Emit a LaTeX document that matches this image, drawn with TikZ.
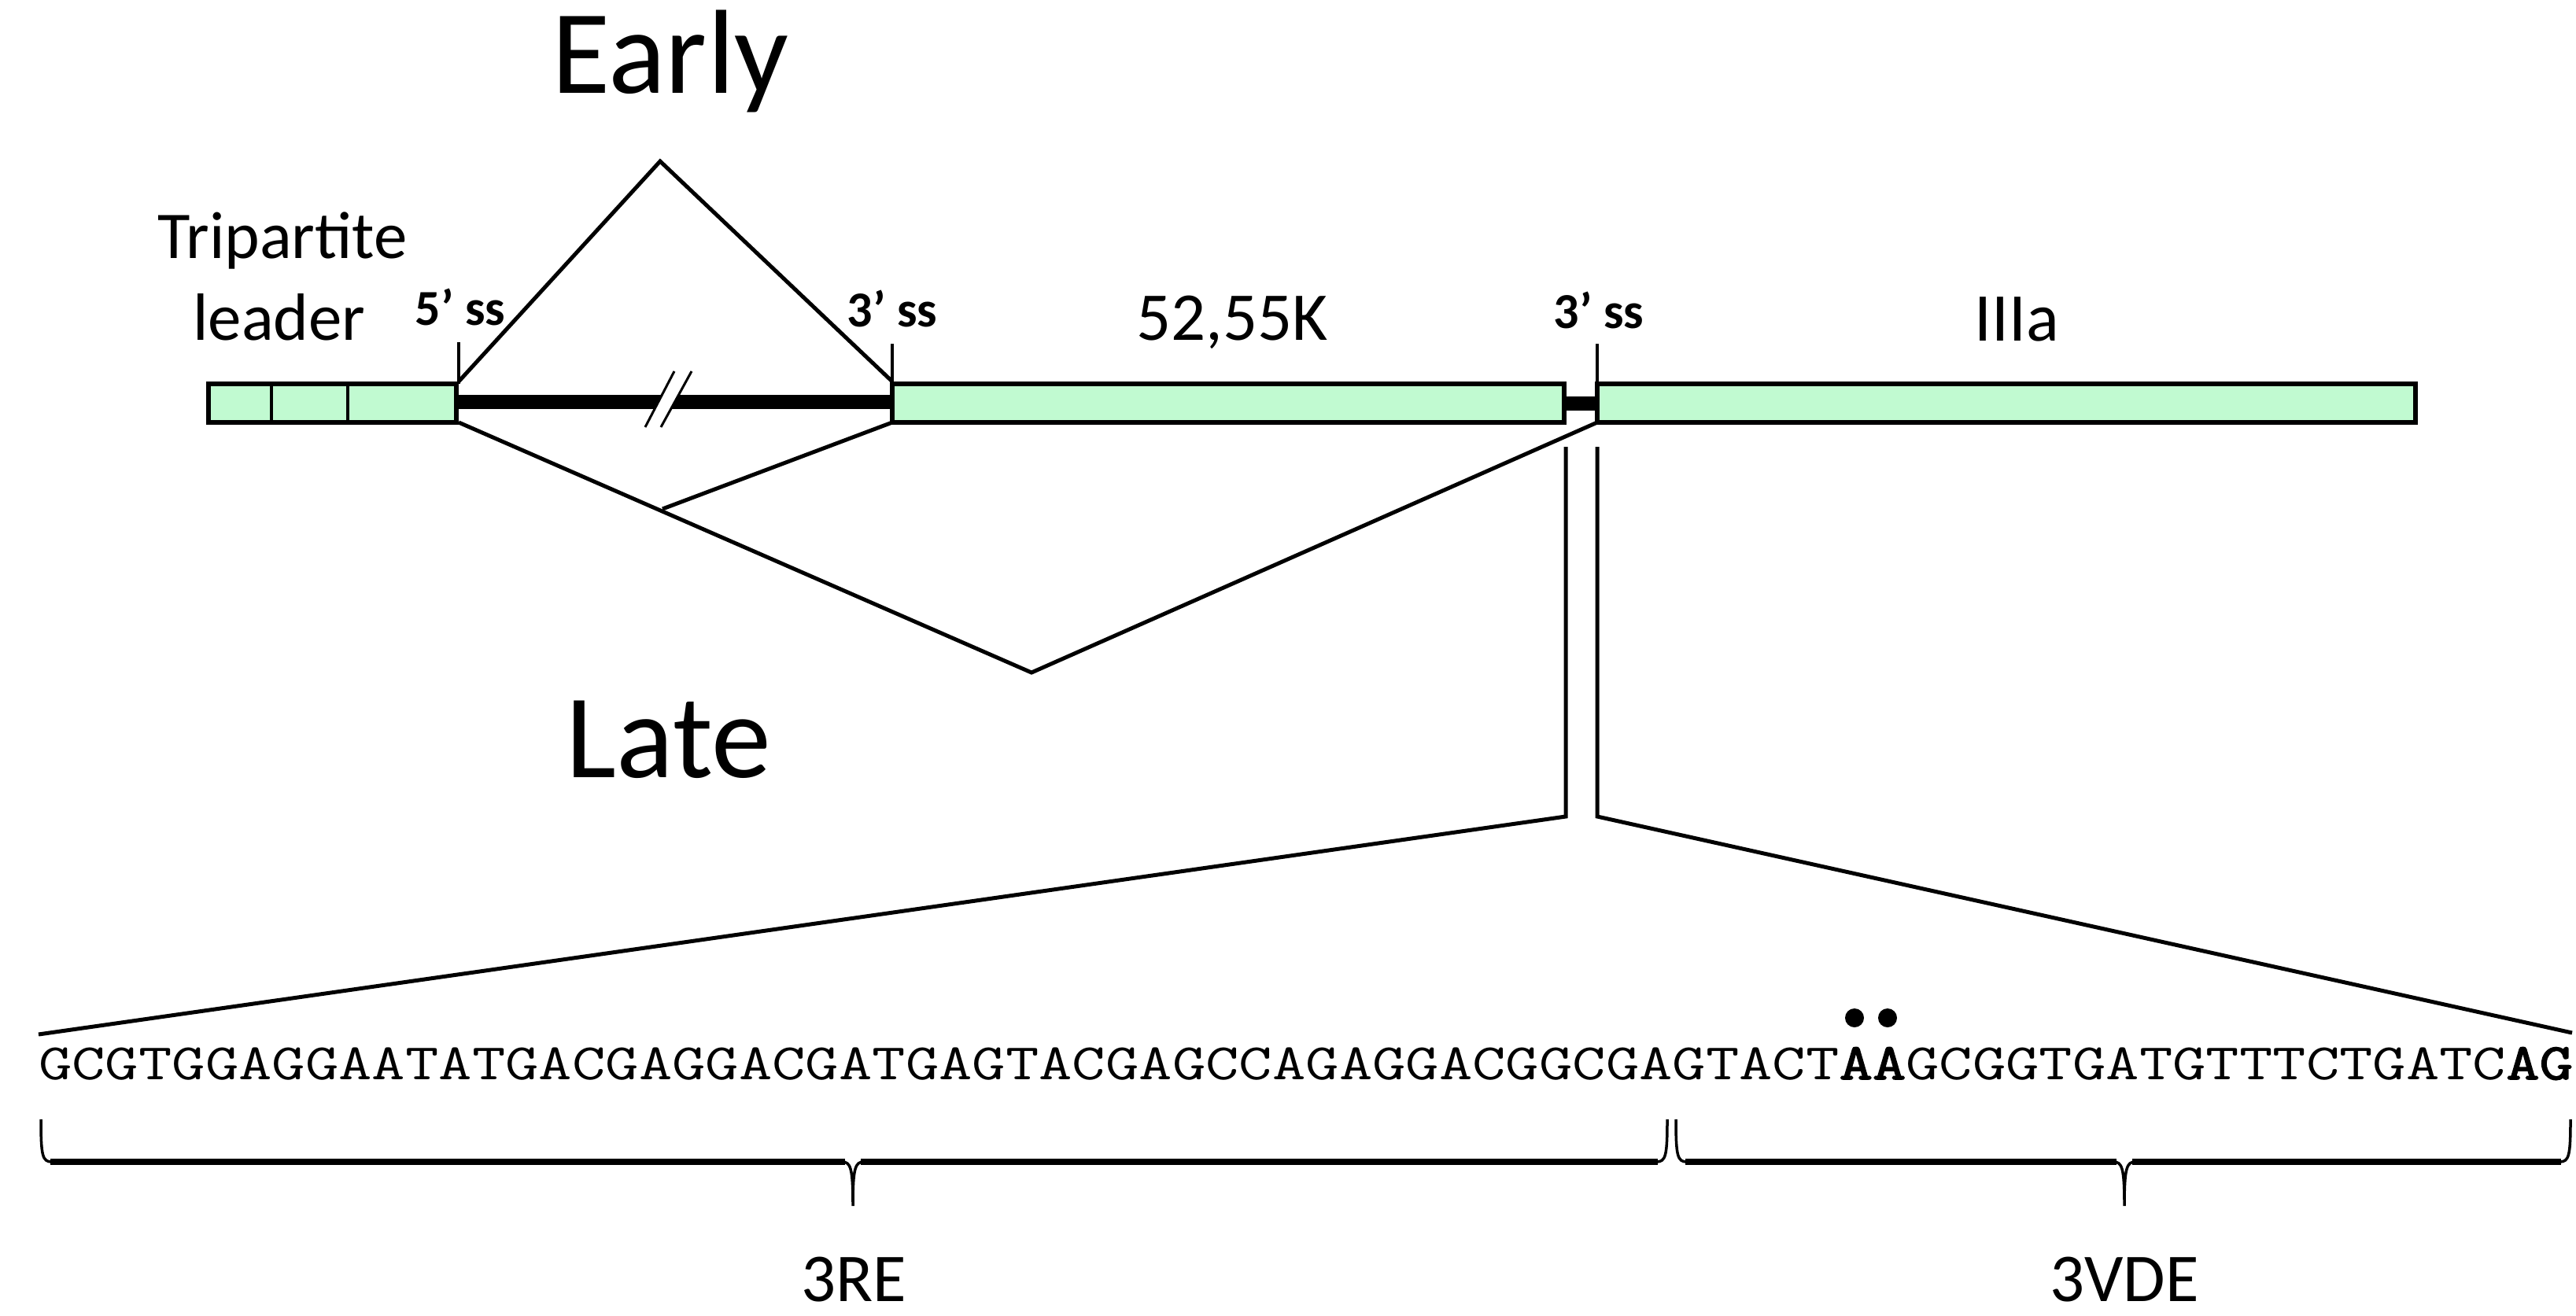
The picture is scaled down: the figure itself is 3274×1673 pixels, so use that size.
\documentclass[tikz,border=0pt]{standalone}
\usepackage{fontspec}
\setmainfont{Carlito}
\newfontfamily\seqfont[FakeStretch=1.266,BoldFont={*},BoldFeatures={FakeBold=2.5}]{Latin Modern Mono}
\definecolor{exon}{RGB}{193,250,209}
\begin{document}
\begin{tikzpicture}[x=1pt,y=-1pt,
  exonbox/.style={draw=black,fill=exon,line width=6.5pt},
  intron/.style={line width=18pt},
  splice/.style={line width=5pt,line join=miter},
  tickmark/.style={line width=4pt},
  bracethin/.style={line width=3.5pt},
  bracethick/.style={line width=8pt},
  lbl/.style={inner sep=0pt,anchor=base},
  big/.style={font=\fontsize{152}{160}\selectfont},
  mid/.style={font=\fontsize{87}{100}\selectfont},
  ss/.style={font=\bfseries\fontsize{64}{70}\selectfont},
]
\useasboundingbox (0,0) rectangle (3274,1673);

% key points
\coordinate (apex) at (839,205);
\coordinate (lfoot) at (583,485);
\coordinate (rfoot) at (1134,485);
\coordinate (lowL) at (583,537);
\coordinate (junc) at (842,647);
\coordinate (lowR) at (1134,537);
\coordinate (bottom) at (1311,855);
\coordinate (iiiL) at (2030,537);
\coordinate (zl1) at (1990,568);
\coordinate (zl2) at (1990,1038);
\coordinate (zr1) at (2030,568);
\coordinate (zr2) at (2030,1038);
\coordinate (sl) at (49,1315);
\coordinate (sr) at (3269,1313);

% introns
\draw[intron] (580,511) -- (1134,511);
\draw[intron] (1988,513) -- (2030,513);
% break mark
\fill[white] (820,543) -- (857,472) -- (879,472) -- (840,543) -- cycle;
\draw[line width=3pt] (820,543) -- (857,472);
\draw[line width=3pt] (840,543) -- (879,472);

% exons
\draw[exonbox] (265,488) rectangle (580,537);
\draw[line width=4pt] (345,488) -- (345,537);
\draw[line width=4pt] (442,486) -- (442,537);
\draw[exonbox] (1134,488) rectangle (1988,537);
\draw[exonbox] (2030,488) rectangle (3070,537);

% splice site ticks
\draw[tickmark] (583,435) -- (583,488);
\draw[tickmark] (1134,437) -- (1134,488);
\draw[tickmark] (2030,437) -- (2030,488);

% early splice
\draw[splice] (lfoot) -- (apex) -- (rfoot);
% late splice
\draw[splice] (lowL) -- (bottom) -- (iiiL);
\draw[splice] (junc) -- (lowR);

% zoom lines
\draw[splice] (zl1) -- (zl2) -- (sl);
\draw[splice] (zr1) -- (zr2) -- (sr);

% labels
\node[lbl,big] (early) at (852,118) {Early};
\node[lbl,big] (late) at (850,988) {Late};
\node[lbl,font=\fontsize{85}{100}\selectfont] (tri) at (359,328) {Tripartite};
\node[lbl,font=\fontsize{85}{100}\selectfont] (lead) at (355,432) {leader};
\node[lbl,ss] (ss5) at (585,413) {5’ ss};
\node[lbl,ss] (ss3a) at (1134,415) {3’ ss};
\node[lbl,ss] (ss3b) at (2032,417) {3’ ss};
\node[lbl,mid] (k52) at (1566,432) {52,55K};
\node[lbl,mid] (iiia) at (2563,433) {IIIa};

% sequence
\node[lbl,anchor=base west,font=\seqfont\fontsize{65}{75}\selectfont] (seq) at (49,1372)
  {GCGTGGAGGAATATGACGAGGACGATGAGTACGAGCCAGAGGACGGCGAGTACT\textbf{AA}GCGGTGATGTTTCTGATC\textbf{AG}};
\fill (2357,1294) circle (12);
\fill (2399,1294) circle (12);

% braces
\draw[bracethin] (52,1423) .. controls (52,1470) and (54,1477) .. (66,1477)
  -- (1070,1477) .. controls (1081,1477) and (1084,1484) .. (1084,1533)
  .. controls (1084,1484) and (1087,1477) .. (1098,1477)
  -- (2105,1477) .. controls (2117,1477) and (2119,1470) .. (2119,1423);
\draw[bracethick] (64,1477) -- (1074,1477);
\draw[bracethick] (1094,1477) -- (2107,1477);
\draw[bracethin] (2130,1423) .. controls (2130,1470) and (2132,1477) .. (2144,1477)
  -- (2686,1477) .. controls (2697,1477) and (2700,1484) .. (2700,1533)
  .. controls (2700,1484) and (2703,1477) .. (2714,1477)
  -- (3253,1477) .. controls (3265,1477) and (3267,1470) .. (3267,1423);
\draw[bracethick] (2142,1477) -- (2690,1477);
\draw[bracethick] (2710,1477) -- (3255,1477);

\node[lbl,mid] (re) at (1085,1654) {3RE};
\node[lbl,mid] (vde) at (2700,1654) {3VDE};
\end{tikzpicture}
\end{document}
